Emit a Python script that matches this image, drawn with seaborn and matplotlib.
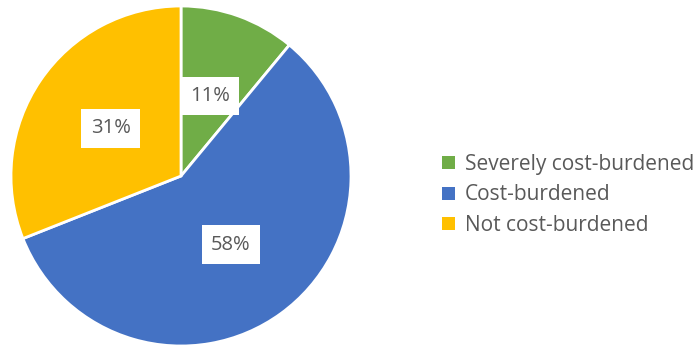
import matplotlib
matplotlib.use("Agg")
import matplotlib.pyplot as plt
import seaborn as sns
from matplotlib.patches import Patch

categories = ["Severely cost-burdened", "Cost-burdened", "Not cost-burdened"]
values = [11, 58, 31]
colors = ["#70AD47", "#4472C4", "#FFC000"]

sns.set_theme(style="white")
plt.rcParams["font.family"] = ["Open Sans", "DejaVu Sans"]

fig = plt.figure(figsize=(7, 3.45), dpi=100)
ax = fig.add_axes([11/700, (345-176-170)/345, 340/700, 340/345])
wedges, texts, autotexts = ax.pie(
    values, colors=colors, startangle=90, counterclock=False,
    autopct="%d%%", pctdistance=0.5, radius=1.0,
    wedgeprops=dict(edgecolor="white", linewidth=2),
    textprops=dict(color="#595959", fontsize=14.5),
)
for t in autotexts:
    t.set_bbox(dict(facecolor="white", edgecolor="none", boxstyle="square,pad=0.47"))
ax.set_xlim(-1.0, 1.0)
ax.set_ylim(-1.0, 1.0)

handles = [Patch(facecolor=c, edgecolor="none") for c in colors]
fig.legend(handles, categories, loc="center left", bbox_to_anchor=(442/700, (345-195)/345),
           frameon=False, fontsize=15, labelcolor="#595959",
           handlelength=0.6, handleheight=0.6, handletextpad=0.5, labelspacing=0.45,
           borderaxespad=0, borderpad=0)

fig.savefig("out.png", dpi=100)
